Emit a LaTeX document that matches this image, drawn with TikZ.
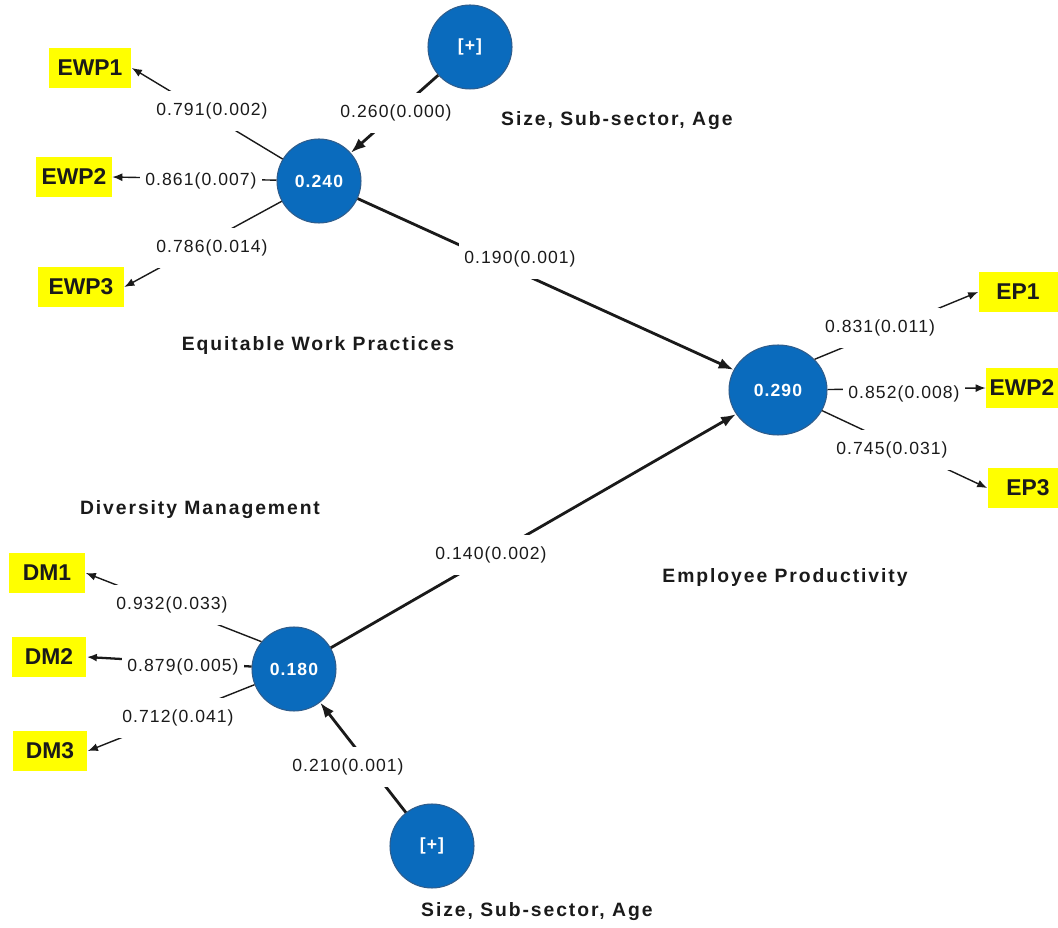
\documentclass[tikz,border=0pt]{standalone}
\usepackage{fontspec}
\setmainfont{Liberation Sans}
\newfontfamily\wertfont[LetterSpace=6]{Liberation Sans}
\newfontfamily\titelfont[LetterSpace=10]{Liberation Sans}
\usetikzlibrary{arrows.meta,shapes.geometric}
\definecolor{blau}{HTML}{0A6BBD}
\definecolor{blaur}{HTML}{2F5D8C}
\definecolor{gelb}{HTML}{FFFF00}
\definecolor{schw}{HTML}{1A1A1A}
\tikzset{
  kreis/.style={circle,fill=blau,draw=blaur,line width=0.6pt,minimum size=1.68cm,inner sep=0pt,text=white,font=\wertfont\bfseries\fontsize{10}{12}\selectfont},
  kasten/.style={fill=gelb,inner sep=0pt,minimum height=0.8cm,text=schw,font=\bfseries\fontsize{13}{15}\selectfont},
  wert/.style={fill=white,inner xsep=0.1cm,inner ysep=0pt,minimum height=0.8cm,text=schw,font=\wertfont\fontsize{10}{12}\selectfont},
  ladung/.style={-{Latex[length=2mm,width=1.6mm]},schw,line width=0.8pt},
  pfad/.style={-{Latex[length=3mm,width=2.2mm]},schw,line width=1.6pt},
  titel/.style={text=schw,font=\titelfont\bfseries\fontsize{11}{13}\selectfont},
}
\begin{document}
\begin{tikzpicture}[x=0.02cm,y=-0.02cm]
  \useasboundingbox (0,0) rectangle (1058,928);
  \node[kreis] (plus1) at (470,47) {[+]};
  \node[kreis] (ewp) at (319,181) {0.240};
  \node[kreis,ellipse,minimum width=1.96cm,minimum height=1.8cm] (ep) at (778,390) {0.290};
  \node[kreis] (dm) at (294,669) {0.180};
  \node[kreis] (plus2) at (432,846) {[+]};
  \node[kasten,minimum width=1.66cm] (ewp1) at (90,68) {EWP1};
  \node[kasten,minimum width=1.52cm] (ewp2) at (74,177) {EWP2};
  \node[kasten,minimum width=1.72cm] (ewp3) at (81,287) {EWP3};
  \node[kasten,minimum width=1.58cm] (ep1) at (1018,292) {EP1};
  \node[kasten,minimum width=1.44cm] (ep2) at (1022,388) {EWP2};
  \node[kasten,minimum width=1.62cm] (ep3) at (1028,488) {EP3};
  \node[kasten,minimum width=1.54cm] (dm1) at (47,573) {DM1};
  \node[kasten,minimum width=1.5cm] (dm2) at (49,657) {DM2};
  \node[kasten,minimum width=1.5cm] (dm3) at (50,751) {DM3};
  \node[titel,anchor=west] (t1) at (495,121) {Size, Sub-sector, Age};
  \node[titel] (t2) at (318,346) {Equitable Work Practices};
  \node[titel] (t3) at (200,510) {Diversity Management};
  \node[titel] (t4) at (785,578) {Employee Productivity};
  \node[titel,anchor=west] (t5) at (415,912) {Size, Sub-sector, Age};
  \draw[pfad] (plus1) -- (ewp);
  \draw[pfad] (plus2) -- (dm);
  \draw[pfad] (ewp) -- (ep);
  \draw[pfad] (dm) -- (ep);
  \draw[ladung] (ewp) -- (ewp1.east);
  \draw[ladung] (ewp) -- (ewp2.east);
  \draw[ladung] (ewp) -- (ewp3.east);
  \draw[ladung] (ep.40) -- (ep1.west);
  \draw[ladung] (ep) -- (ep2.west);
  \draw[ladung] (ep) -- (ep3.west);
  \draw[ladung] (dm.140) -- (dm1.east);
  \draw[ladung,line width=1.3pt] (dm) -- (dm2.east);
  \draw[ladung] (dm) -- (dm3.east);
  \node[wert] (w1) at (212,111) {0.791(0.002)};
  \node[wert] (w2) at (201,181) {0.861(0.007)};
  \node[wert] (w3) at (212,248) {0.786(0.014)};
  \node[wert] (w4) at (396,113) {0.260(0.000)};
  \node[wert] (w5) at (520,259) {0.190(0.001)};
  \node[wert] (w6) at (491,555) {0.140(0.002)};
  \node[wert] (w7) at (880,328) {0.831(0.011)};
  \node[wert] (w8) at (904,394) {0.852(0.008)};
  \node[wert] (w9) at (892,450) {0.745(0.031)};
  \node[wert] (w10) at (172,605) {0.932(0.033)};
  \node[wert] (w11) at (183,667) {0.879(0.005)};
  \node[wert] (w12) at (178,718) {0.712(0.041)};
  \node[wert] (w13) at (348,767) {0.210(0.001)};
\end{tikzpicture}
\end{document}
